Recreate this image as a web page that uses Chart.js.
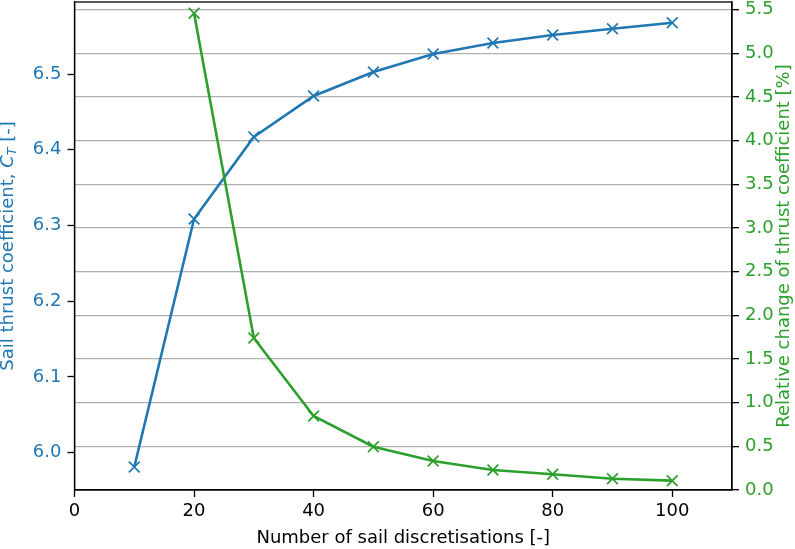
<!DOCTYPE html>
<html>
<head>
<meta charset="utf-8">
<script src="https://cdn.jsdelivr.net/npm/chart.js@4/dist/chart.umd.min.js"></script>
<style>
  html, body { margin: 0; padding: 0; background: #ffffff; }
  #wrap { width: 795px; height: 549px; position: relative; }
</style>
</head>
<body>
<div id="wrap"><canvas id="c" width="795" height="549"></canvas></div>
<script>
// Number of sail discretisations
const discretisations = [10, 20, 30, 40, 50, 60, 70, 80, 90, 100];
// Sail thrust coefficient C_T for each discretisation
const thrustCoeff = [5.981, 6.3085, 6.417, 6.471, 6.5026, 6.5264, 6.541, 6.5515, 6.5598, 6.5677];
// Relative change of C_T with respect to the previous discretisation [%]
const relDiscretisations = [20, 30, 40, 50, 60, 70, 80, 90, 100];
const relChange = [5.46, 1.741, 0.848, 0.496, 0.332, 0.229, 0.18, 0.129, 0.107];

// Tick labels
const xTicks = [0, 20, 40, 60, 80, 100];
const leftTicks = [6.0, 6.1, 6.2, 6.3, 6.4, 6.5];
const rightTicks = [0.0, 0.5, 1.0, 1.5, 2.0, 2.5, 3.0, 3.5, 4.0, 4.5, 5.0, 5.5];

const BLUE = '#1f77b4';
const GREEN = '#2ca02c';
const FONT = "'DejaVu Sans', sans-serif";
const FS = 18;

const thrustPoints = discretisations.map((n, i) => ({ x: n, y: thrustCoeff[i] }));
const relPoints = relDiscretisations.map((n, i) => ({ x: n, y: relChange[i] }));

// Frame around the plot area and the axis titles (left one contains C with subscript T)
const framePlugin = {
  id: 'frameAndTitles',
  afterDatasetsDraw(chart) {
    const { ctx, chartArea: a } = chart;
    ctx.save();
    ctx.strokeStyle = '#000';
    ctx.lineWidth = 1.3;
    ctx.strokeRect(a.left, a.top, a.right - a.left, a.bottom - a.top);
    ctx.restore();
  },
  afterDraw(chart) {
    const { ctx, chartArea: a } = chart;
    const midY = (a.top + a.bottom) / 2;

    // x axis title
    ctx.save();
    ctx.font = `${FS}px ${FONT}`;
    ctx.fillStyle = '#000';
    ctx.textAlign = 'center';
    ctx.textBaseline = 'alphabetic';
    ctx.fillText('Number of sail discretisations [-]', (a.left + a.right) / 2, 543);
    ctx.restore();

    // left axis title, rotated
    ctx.save();
    ctx.translate(12.5, midY);
    ctx.rotate(-Math.PI / 2);
    ctx.fillStyle = BLUE;
    ctx.textBaseline = 'alphabetic';
    const parts = [
      { t: 'Sail thrust coefficient, ', f: `${FS}px ${FONT}`, dy: 0 },
      { t: 'C', f: `italic ${FS}px ${FONT}`, dy: 0 },
      { t: 'T', f: `italic ${FS * 0.7}px ${FONT}`, dy: 3.8 },
      { t: ' [-]', f: `${FS}px ${FONT}`, dy: 0 }
    ];
    let total = 0;
    parts.forEach(p => { ctx.font = p.f; p.w = ctx.measureText(p.t).width; total += p.w; });
    let x = -total / 2;
    parts.forEach(p => { ctx.font = p.f; ctx.fillText(p.t, x, p.dy); x += p.w; });
    ctx.restore();

    // right axis title, rotated
    ctx.save();
    ctx.translate(789, midY);
    ctx.rotate(-Math.PI / 2);
    ctx.font = `${FS}px ${FONT}`;
    ctx.fillStyle = GREEN;
    ctx.textAlign = 'center';
    ctx.textBaseline = 'alphabetic';
    ctx.fillText('Relative change of thrust coefficient [%]', 0, 0);
    ctx.restore();
  }
};

const fixedTicks = arr => scale => { scale.ticks = arr.map(v => ({ value: v })); };
const noPadV = w => s => { s.width = w; s.paddingTop = 0; s.paddingBottom = 0; };

const tickGrid = { drawOnChartArea: false, drawTicks: true, tickLength: 7, tickColor: '#000', tickWidth: 1.3 };
const frameBorder = { display: true, color: '#000', width: 1.3 };

new Chart(document.getElementById('c'), {
  type: 'line',
  data: {
    datasets: [
      {
        label: 'Relative change',
        data: relPoints,
        yAxisID: 'yR',
        borderColor: GREEN,
        backgroundColor: GREEN,
        borderWidth: 2.6,
        pointStyle: 'crossRot',
        pointRadius: 7.6,
        pointBorderWidth: 1.7,
        pointBorderColor: GREEN,
        tension: 0,
        order: 0
      },
      {
        label: 'Thrust coefficient',
        data: thrustPoints,
        yAxisID: 'yL',
        borderColor: BLUE,
        backgroundColor: BLUE,
        borderWidth: 2.6,
        pointStyle: 'crossRot',
        pointRadius: 7.6,
        pointBorderWidth: 1.7,
        pointBorderColor: BLUE,
        tension: 0,
        order: 1
      }
    ]
  },
  options: {
    responsive: false,
    animation: false,
    layout: { autoPadding: false, padding: { top: 2, left: 0, right: 0, bottom: 0 } },
    plugins: { legend: { display: false }, tooltip: { enabled: false } },
    scales: {
      x: {
        type: 'linear',
        position: 'bottom',
        min: 0,
        max: 110,
        afterBuildTicks: fixedTicks(xTicks),
        afterFit: s => { s.height = 59; s.paddingLeft = 0; s.paddingRight = 0; },
        grid: tickGrid,
        border: frameBorder,
        ticks: { color: '#000', padding: 4, font: { family: FONT, size: FS }, maxRotation: 0, callback: v => String(v) }
      },
      yL: {
        type: 'linear',
        position: 'left',
        min: 5.9507,
        max: 6.5951,
        afterBuildTicks: fixedTicks(leftTicks),
        afterFit: noPadV(74.5),
        grid: tickGrid,
        border: frameBorder,
        ticks: { color: BLUE, padding: 6, font: { family: FONT, size: FS }, callback: v => Number(v).toFixed(1) }
      },
      yR: {
        type: 'linear',
        position: 'right',
        min: 0,
        max: 5.588,
        afterBuildTicks: fixedTicks(rightTicks),
        afterFit: noPadV(63),
        grid: { drawOnChartArea: true, color: '#b0b0b0', lineWidth: 1.3, drawTicks: true, tickLength: 7, tickColor: '#000', tickWidth: 1.3 },
        border: frameBorder,
        ticks: { color: GREEN, padding: 6, font: { family: FONT, size: FS }, callback: v => Number(v).toFixed(1) }
      }
    }
  },
  plugins: [framePlugin]
});
</script>
</body>
</html>
